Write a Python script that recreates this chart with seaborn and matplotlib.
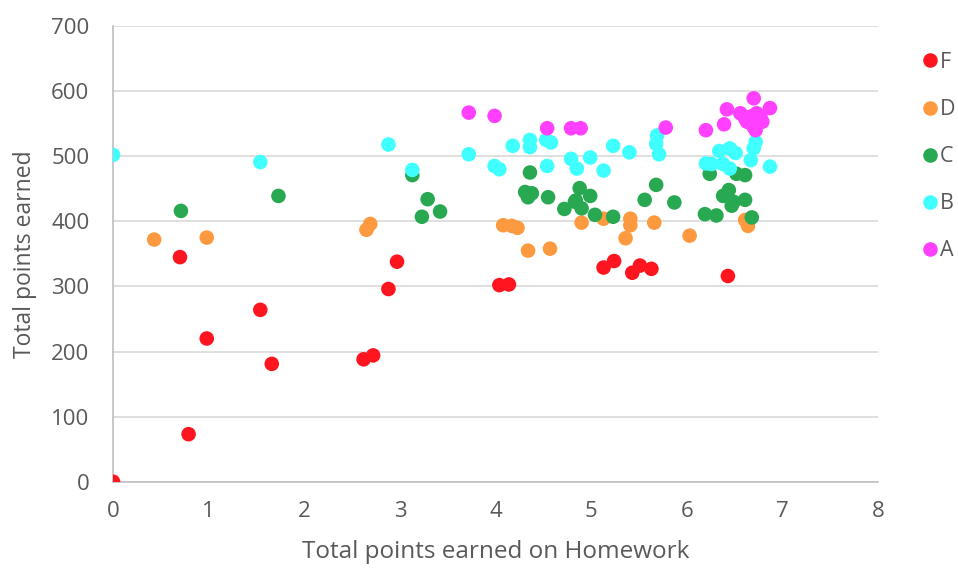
import matplotlib
matplotlib.use("Agg")
import matplotlib.pyplot as plt
import seaborn as sns
import pandas as pd

grades = ["F", "D", "C", "B", "A"]
colors = ["#fe1520", "#fd9a3f", "#28a850", "#40ffff", "#ff40ff"]

f_hw = [0.00, 0.70, 0.79, 0.98, 1.54, 1.66, 2.62, 2.72, 2.88, 2.97, 4.04, 4.14,
        5.13, 5.24, 5.43, 5.51, 5.63, 6.43]
f_total = [0, 345, 73, 220, 264, 181, 188, 194, 296, 338, 302, 303,
           329, 339, 321, 332, 327, 316]

d_hw = [0.43, 0.98, 2.65, 2.69, 4.08, 4.17, 4.23, 4.34, 4.57, 4.90, 5.13, 5.41,
        5.41, 5.36, 5.66, 6.03, 6.61, 6.64]
d_total = [372, 375, 387, 396, 394, 393, 390, 355, 358, 398, 404, 404,
           394, 374, 398, 378, 402, 393]

c_hw = [0.71, 1.73, 3.13, 3.23, 3.29, 3.42, 4.31, 4.36, 4.38, 4.34, 4.55, 4.72,
        4.83, 4.88, 4.99, 4.84, 4.90, 5.04, 5.23, 5.56, 5.68, 5.87, 6.24, 6.52,
        6.61, 6.44, 6.38, 6.49, 6.61, 6.47, 6.19, 6.31, 6.68]
c_total = [416, 439, 471, 407, 434, 415, 445, 475, 443, 437, 437, 419,
           430, 451, 439, 432, 420, 410, 407, 433, 456, 429, 473, 473,
           471, 448, 439, 430, 433, 424, 411, 409, 406]

b_hw = [0.00, 1.54, 2.88, 3.13, 3.72, 3.99, 4.04, 4.18, 4.36, 4.36, 4.53, 4.58,
        4.54, 4.79, 4.85, 4.99, 5.23, 5.13, 5.40, 5.69, 5.68, 5.71, 6.72, 6.70,
        6.67, 6.87, 6.34, 6.45, 6.51, 6.20, 6.26, 6.38, 6.45]
b_total = [502, 491, 518, 479, 503, 485, 480, 516, 525, 514, 525, 521,
           485, 496, 481, 498, 516, 478, 506, 532, 519, 503, 522, 512,
           494, 484, 508, 512, 505, 489, 488, 488, 481]

a_hw = [3.72, 3.99, 4.54, 4.79, 4.89, 5.78, 6.20, 6.39, 6.42, 6.70, 6.87,
        6.56, 6.61, 6.67, 6.73, 6.79, 6.70, 6.72, 6.63, 6.77]
a_total = [567, 562, 543, 543, 543, 544, 540, 549, 572, 589, 574,
           566, 558, 561, 566, 553, 545, 540, 553, 561]

hw = f_hw + d_hw + c_hw + b_hw + a_hw
total = f_total + d_total + c_total + b_total + a_total
grade = (["F"] * len(f_hw) + ["D"] * len(d_hw) + ["C"] * len(c_hw)
         + ["B"] * len(b_hw) + ["A"] * len(a_hw))
df = pd.DataFrame({"hw": hw, "total": total, "grade": grade})

sns.set_theme(style="white")
plt.rcParams["font.family"] = ["Open Sans", "DejaVu Sans"]

text_color = "#595959"
fig = plt.figure(figsize=(9.58, 5.71), dpi=100)
ax = fig.add_axes([0.118, 0.1564, 0.7985, 0.798])

sns.scatterplot(data=df, x="hw", y="total", hue="grade", hue_order=grades,
                palette=colors, s=110, linewidth=0, ax=ax, zorder=3)

ax.set_xlim(0, 8)
ax.set_ylim(0, 700)
ax.set_xticks(range(0, 9))
ax.set_yticks(range(0, 701, 100))
ax.grid(axis="y", color="#d9d9d9", linewidth=1.2, zorder=0)
ax.set_axisbelow(True)
for side in ["top", "right"]:
    ax.spines[side].set_visible(False)
for side in ["left", "bottom"]:
    ax.spines[side].set_color("#bfbfbf")
    ax.spines[side].set_linewidth(1.2)
ax.tick_params(axis="both", length=0, labelsize=16, labelcolor=text_color)
ax.tick_params(axis="y", pad=17)
ax.tick_params(axis="x", pad=14)
ax.set_xlabel("Total points earned on Homework", fontsize=17.5,
              color=text_color, labelpad=13)
ax.set_ylabel("Total points earned", fontsize=16.5, color=text_color,
              labelpad=10)

handles, labels = ax.get_legend_handles_labels()
ax.legend(handles, labels, loc="upper left", bbox_to_anchor=(0.953, 0.924),
          bbox_transform=fig.transFigure, frameon=False, fontsize=15.5,
          labelcolor=text_color, handlelength=0.8, handletextpad=0.05,
          labelspacing=1.21, markerscale=1.0, borderaxespad=0)

fig.savefig("out.png", dpi=100)
